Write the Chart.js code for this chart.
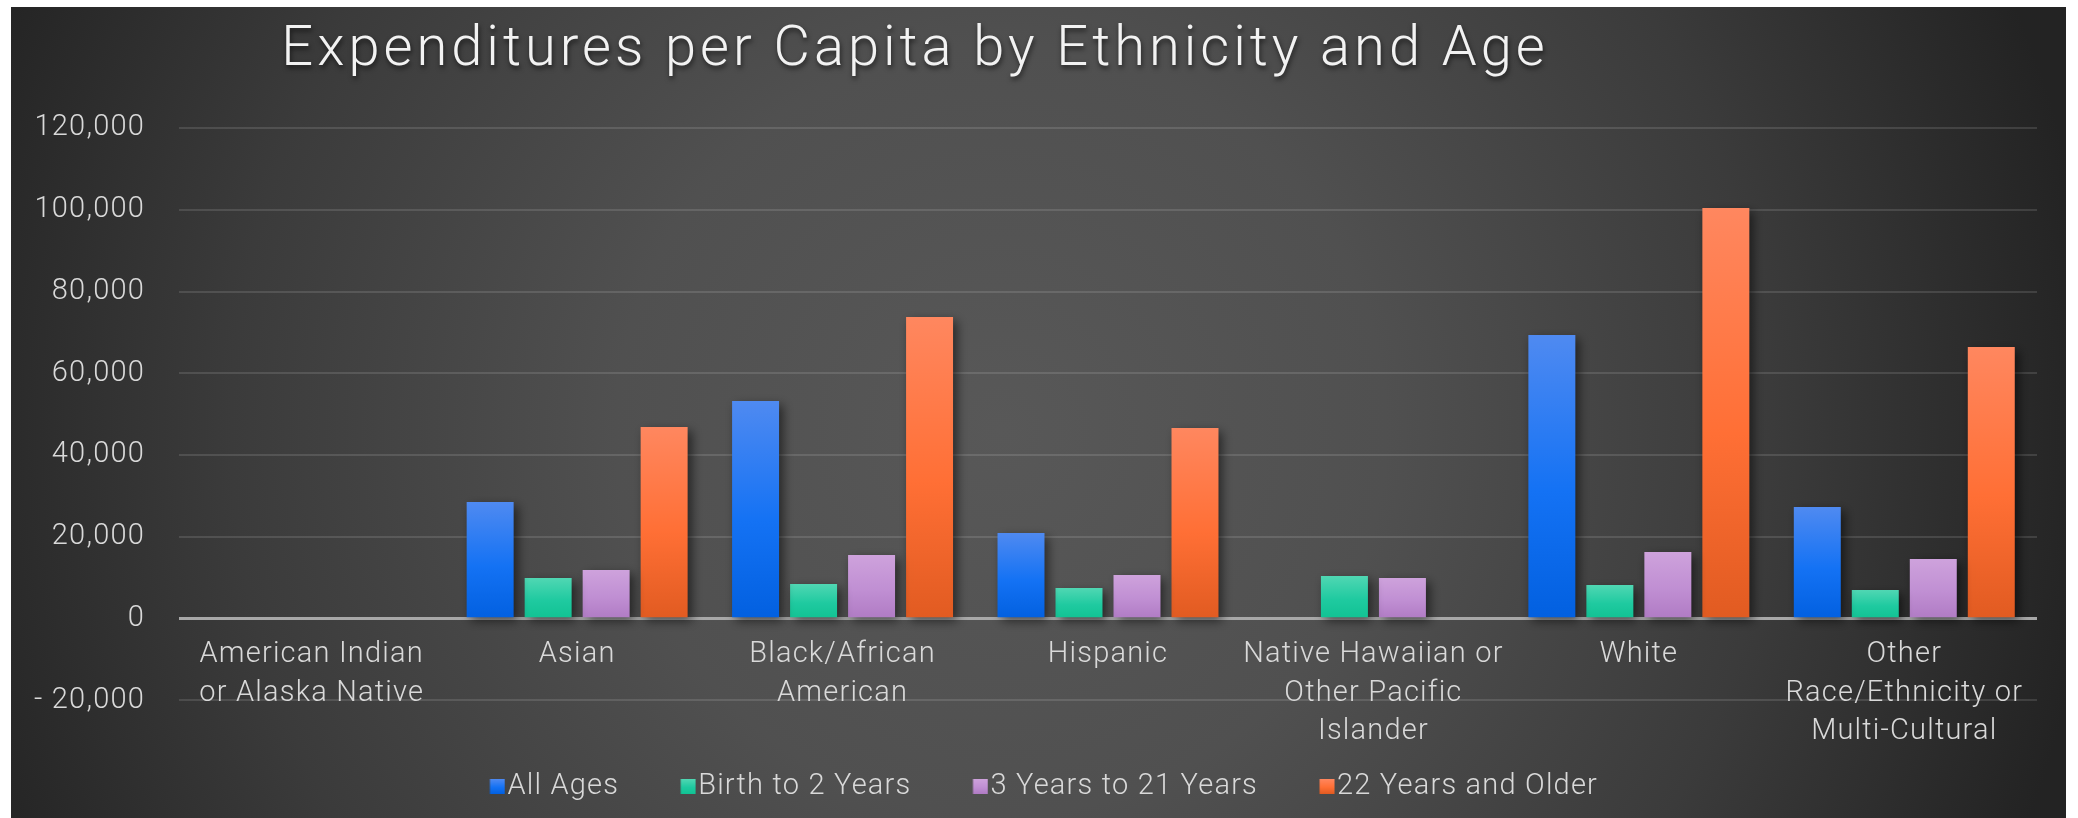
<!DOCTYPE html>
<html>
<head>
<meta charset="utf-8">
<script src="https://cdn.jsdelivr.net/npm/chart.js@4/dist/chart.umd.min.js"></script>
<style>
  html, body { margin: 0; padding: 0; background: #ffffff; }
  #wrap { position: absolute; left: 11px; top: 7px; width: 2055px; height: 811px; }
  canvas { display: block; }
</style>
</head>
<body>
<div id="wrap"><canvas id="c" width="2055" height="811"></canvas></div>
<script>
// ---------------- data ----------------
const titleText = 'Expenditures per Capita by Ethnicity and Age';
const categories = [
  ['American Indian', 'or Alaska Native'],
  'Asian',
  ['Black/African', 'American'],
  'Hispanic',
  ['Native Hawaiian or', 'Other Pacific', 'Islander'],
  'White',
  ['Other', 'Race/Ethnicity or', 'Multi-Cultural']
];
const seriesNames = ['All Ages', 'Birth to 2 Years', '3 Years to 21 Years', '22 Years and Older'];
const allAges      = [0, 28550, 53260, 20960, 0, 69410, 27320];
const birthTo2     = [null, 9950, 8480, 7500, 10440, 8240, 7010];
const years3to21   = [null, 11910, 15580, 10690, 9950, 16310, 14600];
const years22plus  = [0, 46900, 73820, 46660, 0, 100490, 66480];
const yTickValues  = [-20000, 0, 20000, 40000, 60000, 80000, 100000, 120000];

// ---------------- styles ----------------
const FONT = 'Roboto';
const palettes = [
  ['#4f8af1', '#1472f4', '#0260e0'],
  ['#50d7b3', '#1fcaa0', '#11c293'],
  ['#cea2dc', '#c08fd3', '#b07bc4'],
  ['#ff875f', '#ff6f35', '#e15b21']
];

function barFill(i) {
  return (ctx) => {
    const p = palettes[i];
    if (ctx.type !== 'data') return p[1];
    const chart = ctx.chart;
    const ys = chart.scales && chart.scales.y;
    const v = ctx.parsed ? ctx.parsed.y : null;
    if (!ys || !chart.chartArea || v == null || v === 0) return p[1];
    const top = ys.getPixelForValue(v);
    const base = ys.getPixelForValue(0);
    if (!isFinite(top) || !isFinite(base) || Math.abs(base - top) < 1) return p[1];
    const g = chart.ctx.createLinearGradient(0, top, 0, base);
    g.addColorStop(0, p[0]);
    g.addColorStop(0.55, p[1]);
    g.addColorStop(1, p[2]);
    return g;
  };
}

// legend marker images (square placed so that it sits close to its text)
function legendMarker(i) {
  const p = palettes[i];
  const cv = document.createElement('canvas');
  cv.width = 40; cv.height = 15;
  const c = cv.getContext('2d');
  const g = c.createLinearGradient(0, 0, 0, 15);
  g.addColorStop(0, p[0]);
  g.addColorStop(0.55, p[1]);
  g.addColorStop(1, p[2]);
  c.fillStyle = g;
  c.fillRect(24.5, 0, 15, 15);
  return cv;
}
const markers = seriesNames.map((_, i) => legendMarker(i));

const seriesData = [allAges, birthTo2, years3to21, years22plus];

const bgPlugin = {
  id: 'bg',
  beforeDraw(chart) {
    const c = chart.ctx;
    c.save();
    const g = c.createRadialGradient(990, 423, 0, 990, 423, 1100);
    g.addColorStop(0, '#585858');
    g.addColorStop(0.35, '#505050');
    g.addColorStop(0.7, '#3b3b3b');
    g.addColorStop(1, '#232323');
    c.fillStyle = g;
    c.fillRect(0, 0, chart.width, chart.height);
    c.restore();
  }
};

const spacingPlugin = {
  id: 'spacing',
  beforeUpdate(chart) { chart.ctx.letterSpacing = '1.2px'; }
};

const shadowPlugin = {
  id: 'barShadow',
  beforeDatasetsDraw(chart) {
    const c = chart.ctx;
    c.save();
    c.shadowColor = 'rgba(0,0,0,0.55)';
    c.shadowBlur = 10;
    c.shadowOffsetX = 4;
    c.shadowOffsetY = 4;
  },
  afterDatasetsDraw(chart) { chart.ctx.restore(); }
};

const placementPlugin = {
  id: 'placement',
  afterLayout(chart) {
    const tb = chart.titleBlock;
    if (tb) {
      const w = tb.right - tb.left;
      const cx = 904;
      tb.left = cx - w / 2;
      tb.right = cx + w / 2;
      if (!tb._patched) {
        const orig = tb.draw;
        tb.draw = function (...args) {
          const c = chart.ctx;
          c.save();
          c.letterSpacing = '4px';
          c.shadowColor = 'rgba(0,0,0,0.6)';
          c.shadowBlur = 5;
          c.shadowOffsetX = 1;
          c.shadowOffsetY = 3;
          orig.apply(this, args);
          c.restore();
        };
        tb._patched = true;
      }
    }
    const lg = chart.legend;
    if (lg) {
      lg.left += 14;
      lg.right += 14;
    }
  }
};

new Chart(document.getElementById('c'), {
  type: 'bar',
  data: {
    labels: categories,
    datasets: seriesNames.map((name, i) => ({
      label: name,
      data: seriesData[i],
      backgroundColor: barFill(i),
      borderWidth: 0,
      categoryPercentage: 0.874,
      barPercentage: 0.81
    }))
  },
  options: {
    responsive: false,
    animation: false,
    layout: { padding: { left: 0, right: 29, top: 0, bottom: 7 } },
    plugins: {
      title: {
        display: true,
        text: titleText,
        color: '#f2f2f2',
        font: { family: FONT, size: 56, weight: '300', lineHeight: 1.2 },
        padding: { top: 10, bottom: 44 }
      },
      legend: {
        position: 'bottom',
        title: { display: true, text: '', padding: 0, font: { size: 22.1, lineHeight: 1 } },
        labels: {
          color: '#d9d9d9',
          font: { family: FONT, size: 29, weight: '300' },
          usePointStyle: true,
          pointStyleWidth: 15,
          boxWidth: 15,
          boxHeight: 15,
          padding: 49.5,
          generateLabels(chart) {
            const items = Chart.defaults.plugins.legend.labels.generateLabels(chart);
            items.forEach((it, i) => {
              it.pointStyle = markers[i];
              it.rotation = 0;
              it.fillStyle = palettes[i][1];
              it.strokeStyle = palettes[i][1];
              it.lineWidth = 0;
              it.fontColor = '#d9d9d9';
            });
            return items;
          }
        }
      },
      tooltip: { enabled: false }
    },
    scales: {
      x: {
        type: 'category',
        position: { y: 0 },
        offset: true,
        grid: { display: false, drawTicks: false },
        border: { display: false },
        ticks: {
          color: '#d9d9d9',
          font: { family: FONT, size: 29, weight: '300', lineHeight: 1.33 },
          padding: 17,
          autoSkip: false,
          maxRotation: 0,
          minRotation: 0
        }
      },
      y: {
        min: -20000,
        max: 120000,
        afterFit(s) { s.width = 168; },
        afterBuildTicks(s) { s.ticks = yTickValues.map(v => ({ value: v })); },
        border: { display: false },
        grid: {
          drawTicks: false,
          color: (c) => (c.tick && c.tick.value === 0) ? '#a8a8a8' : 'rgba(255,255,255,0.12)',
          lineWidth: (c) => (c.tick && c.tick.value === 0) ? 3 : 2
        },
        ticks: {
          color: '#d9d9d9',
          font: { family: FONT, size: 29, weight: '300' },
          padding: 34,
          callback: (v) => v < 0 ? '- ' + Math.abs(v).toLocaleString('en-US') : v.toLocaleString('en-US')
        }
      }
    }
  },
  plugins: [bgPlugin, spacingPlugin, shadowPlugin, placementPlugin]
});
</script>
</body>
</html>
